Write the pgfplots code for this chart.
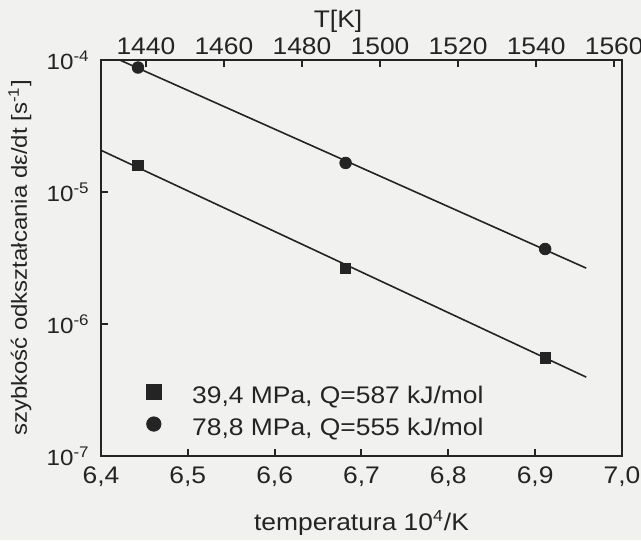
\documentclass[border=0pt]{standalone}
\usepackage{fontspec}
\setmainfont{Liberation Sans}[FakeStretch=1.1]
\usepackage{pgfplots}
\pgfplotsset{compat=1.18}
\definecolor{bg}{RGB}{241,241,239}
\definecolor{ink}{RGB}{36,36,36}
\begin{document}
\fontsize{12}{14}\selectfont
\begin{tikzpicture}
\useasboundingbox (-50.5pt,-42pt) rectangle (270pt,228pt);
\fill[bg] (-50.5pt,-42pt) rectangle (270pt,228pt);
\begin{axis}[
  at={(0pt,0pt)}, anchor=south west,
  scale only axis, width=260.5pt, height=198pt,
  xmin=6.4, xmax=7.0, ymode=log, ymin=1e-7, ymax=1e-4,
  axis line style={ink, line width=1pt},
  every tick/.style={ink, line width=1pt},
  major tick length=3.5pt,
  tick align=inside,
  xtick pos=bottom, ytick pos=left,
  xtick={6.4,6.5,6.6,6.7,6.8,6.9,7.0},
  ytick={1e-7,1e-6,1e-5,1e-4},
  yticklabels={10\textsuperscript{-7},10\textsuperscript{-6},10\textsuperscript{-5},10\textsuperscript{-4}},
  yminorticks=false,
  xticklabel style={text=ink, yshift=-1pt, /pgf/number format/.cd, use comma, fixed, fixed zerofill, precision=1, assume math mode=true},
  yticklabel style={text=ink, font=\fontsize{11}{13}\selectfont, xshift=-1.5pt},
  xlabel={temperatura 10\textsuperscript{4}/K},
  ylabel={szybkość odkształcania dε/dt [s\textsuperscript{-1}]},
  xlabel style={at={(axis description cs:0.5,-0.169)}, anchor=center, text=ink},
  ylabel style={at={(axis description cs:-0.1555,0.5)}, anchor=center, text=ink, font=\fontsize{10.9}{13}\selectfont},
  legend style={at={(axis description cs:0.0845,0.0353)}, anchor=south west,
    draw=none, fill=none, inner sep=0pt, row sep=3pt, column sep=0pt,
    font=\fontsize{12}{15}\selectfont,
    nodes={inner sep=0pt, text height=10pt, text depth=3pt, text=ink}},
  legend cell align=left,
  legend image code/.code={\draw[#1, mark size=3.6pt] plot coordinates {(0pt,2.3pt)}; \path (-4pt,0pt) (19pt,0pt);},
]
\addplot[ink, line width=0.8pt, forget plot] coordinates {(6.4,2.07e-5) (6.9588,3.96e-7)};
\addplot[ink, line width=0.8pt, forget plot] coordinates {(6.4,1.157e-4) (6.9588,2.65e-6)};
\addplot[only marks, mark=square*, mark size=2.6pt, ink, fill=ink] coordinates {(6.4426,1.59e-5) (6.6817,2.65e-6) (6.9115,5.52e-7)};
\addlegendentry{39,4 MPa, Q=587 kJ/mol}
\addplot[only marks, mark=*, mark size=2.9pt, ink, fill=ink] coordinates {(6.4426,8.77e-5) (6.6817,1.66e-5) (6.9115,3.70e-6)};
\addlegendentry{78,8 MPa, Q=555 kJ/mol}
\end{axis}
\begin{axis}[
  at={(0pt,0pt)}, anchor=south west,
  scale only axis, width=260.5pt, height=198pt,
  xmin=1428.5, xmax=1562, ymin=0, ymax=1,
  axis x line*=top, axis y line=none,
  axis line style={ink, line width=1pt, -},
  every tick/.style={ink, line width=1pt},
  major tick length=3.5pt,
  tick align=inside,
  xtick={1440,1460,1480,1500,1520,1540,1560},
  xticklabel style={text=ink, yshift=-1.5pt, /pgf/number format/.cd, 1000 sep={}, assume math mode=true},
  xlabel={T[K]},
  xlabel style={at={(axis description cs:0.455,1.0985)}, anchor=center, text=ink},
]
\end{axis}
\end{tikzpicture}
\end{document}
